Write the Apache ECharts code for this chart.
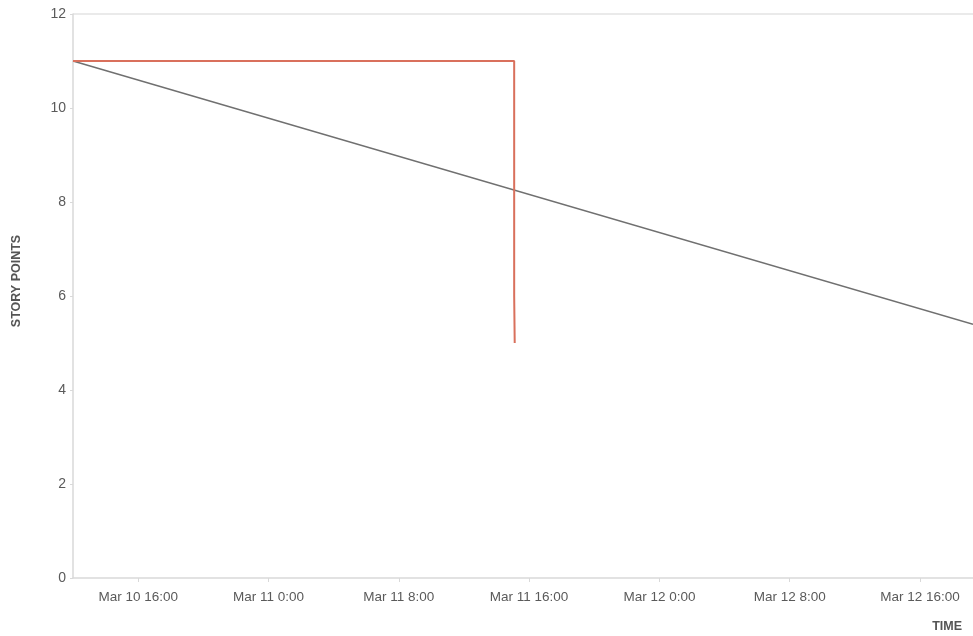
<!DOCTYPE html>
<html>
<head>
<meta charset="utf-8">
<script src="https://cdn.jsdelivr.net/npm/echarts@6/dist/echarts.min.js"></script>
<style>
html,body{margin:0;padding:0;background:#fff;}
#chart{width:973px;height:636px;}
</style>
</head>
<body>
<div id="chart"></div>
<script>
// ---- data ----
const xMin = '2024-03-10 12:00';
const xMax = '2024-03-12 19:15';
const xTickLabels = ['2024-03-10 16:00','2024-03-11 00:00','2024-03-11 08:00','2024-03-11 16:00','2024-03-12 00:00','2024-03-12 08:00','2024-03-12 16:00'];
const remainingTimes = ['2024-03-10 12:00','2024-03-11 15:05','2024-03-11 15:05','2024-03-11 15:07','2024-03-11 15:07'];
const remainingValues = [11, 11, 6, 6, 5];
const idealTimes = ['2024-03-10 12:00','2024-03-12 19:15'];
const idealValues = [11, 5.4];

function ts(s){ return new Date(s.replace(' ', 'T') + ':00').getTime(); }
const months = ['Jan','Feb','Mar','Apr','May','Jun','Jul','Aug','Sep','Oct','Nov','Dec'];
function fmt(v){
  const d = new Date(v);
  const m = d.getMinutes();
  return months[d.getMonth()] + ' ' + d.getDate() + ' ' + d.getHours() + ':' + (m < 10 ? '0' + m : m);
}
const xTickValues = xTickLabels.map(ts);

const chart = echarts.init(document.getElementById('chart'));
chart.setOption({
  animation: false,
  backgroundColor: '#fff',
  grid: { left: 73, right: 0, top: 14, bottom: 58, show: false },
  xAxis: {
    type: 'value',
    min: ts(xMin),
    max: ts(xMax),
    name: 'TIME',
    nameLocation: 'end',
    nameGap: 0,
    nameTextStyle: { fontFamily: 'Liberation Sans', fontWeight: 'bold', fontSize: 12.5, color: '#555', align: 'right', verticalAlign: 'top', padding: [42, 11, 0, 0] },
    axisLine: { show: true, lineStyle: { color: '#d9d9d9', width: 1.5 } },
    axisTick: { show: true, length: 4, lineStyle: { color: '#d9d9d9' }, customValues: xTickValues },
    axisLabel: { color: '#5a5a5a', fontSize: 13.5, fontFamily: 'Liberation Sans', margin: 12, customValues: xTickValues, formatter: fmt },
    splitLine: { show: false }
  },
  yAxis: {
    type: 'value',
    min: 0, max: 12, interval: 2,
    name: 'STORY POINTS',
    nameLocation: 'middle',
    nameGap: 50,
    nameRotate: 90,
    nameTextStyle: { fontFamily: 'Liberation Sans', fontWeight: 'bold', fontSize: 12.5, color: '#555', padding: [0, 0, 0, 30] },
    axisLine: { show: true, lineStyle: { color: '#d9d9d9', width: 1.5 } },
    axisTick: { show: true, length: 3, lineStyle: { color: '#d9d9d9' } },
    axisLabel: { color: '#5a5a5a', fontSize: 14, fontFamily: 'Liberation Sans', margin: 7 },
    splitLine: { show: true, lineStyle: { color: ['transparent','transparent','transparent','transparent','transparent','transparent','#e3e3e3'], width: 1.5 } }
  },
  series: [
    {
      name: 'Ideal', type: 'line', symbol: 'none', clip: true,
      data: idealTimes.map((t, i) => [ts(t), idealValues[i]]),
      lineStyle: { color: '#707070', width: 1.5 }, z: 2
    },
    {
      name: 'Remaining', type: 'line', symbol: 'none', clip: true,
      data: remainingTimes.map((t, i) => [ts(t), remainingValues[i]]),
      lineStyle: { color: '#d9705c', width: 2 }, z: 3
    }
  ]
});
</script>
</body>
</html>
